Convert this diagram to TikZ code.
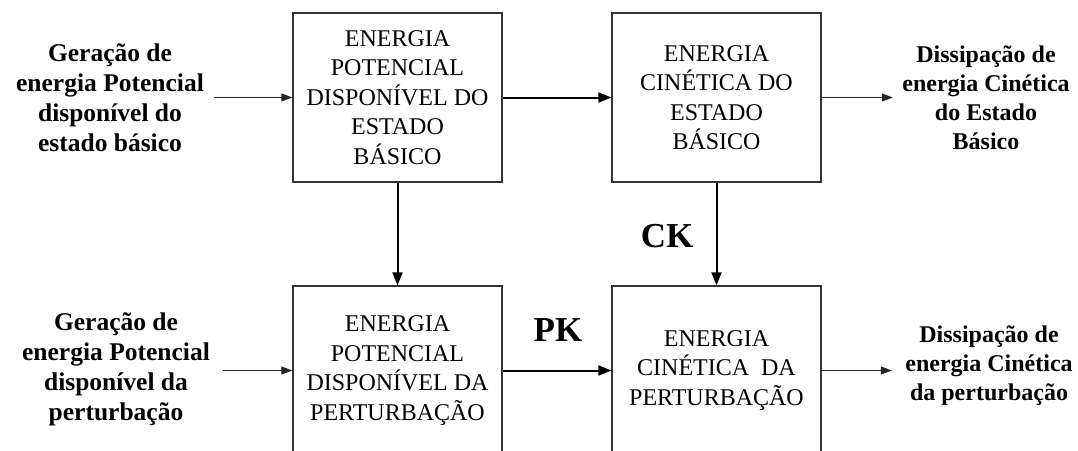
\documentclass[tikz,border=0pt]{standalone}
\usepackage{fontspec}
\setmainfont{Liberation Serif}
\usetikzlibrary{arrows.meta}
\begin{document}
\begin{tikzpicture}[x=1pt,y=-1pt,
  boxnode/.style={draw=black!80,line width=1.3pt,minimum width=209pt,minimum height=169pt,inner sep=0pt,align=center,font=\fontsize{24pt}{29.5pt}\selectfont},
  leftlabel/.style={align=center,font=\fontsize{25.5pt}{30pt}\selectfont\bfseries},
  rightlabel/.style={align=center,font=\fontsize{24pt}{29pt}\selectfont\bfseries},
  biglabel/.style={font=\fontsize{35pt}{40pt}\selectfont\bfseries},
  arrthin/.style={draw=black!85,line width=1pt,-{Triangle[length=11pt,width=8pt]}},
  arrthick/.style={draw=black,line width=2pt,-{Triangle[length=13pt,width=10pt]}}
]
\useasboundingbox (0,0) rectangle (1078,450);
\clip (0,0) rectangle (1078,450);
\fill[white] (0,0) rectangle (1078,450);

\node[boxnode] (b1) at (397.5,97.5) {ENERGIA\\POTENCIAL\\DISPONÍVEL DO\\ESTADO\\BÁSICO};
\node[boxnode] (b2) at (716.5,97.5) {ENERGIA\\CINÉTICA DO\\ESTADO\\BÁSICO};
\node[boxnode] (b3) at (397.5,370.5) {ENERGIA\\POTENCIAL\\DISPONÍVEL DA\\PERTURBAÇÃO};
\node[boxnode] (b4) at (716.5,370.5) {ENERGIA\\CINÉTICA~~DA\\PERTURBAÇÃO};

\node[leftlabel] (in1) at (110,98) {Geração de\\energia Potencial\\disponível do\\estado básico};
\node[leftlabel] (in2) at (116,369) {Geração de\\energia Potencial\\disponível da\\perturbação};
\node[rightlabel] (out1) at (986,98) {Dissipação de\\energia Cinética\\do Estado\\Básico};
\node[rightlabel] (out2) at (989,366) {Dissipação de\\energia Cinética\\da perturbação};

\node[biglabel] (ck) at (667,236) {CK};
\node[biglabel] (pk) at (558,330) {PK};

\draw[arrthin,shorten <=7pt] (in1.east |- b1.west) -- (b1.west);
\draw[arrthin,shorten <=10pt] (in2.east |- b3.west) -- (b3.west);
\draw[arrthick] (b1.east) -- (b2.west);
\draw[arrthick] (b3.east) -- (b4.west);
\draw[arrthick] (b1.south) -- (b3.north);
\draw[arrthick] (b2.south) -- (b4.north);
\draw[arrthin,shorten >=6pt] (b2.east) -- (b2.east -| out1.west);
\draw[arrthin,shorten >=10pt] (b4.east) -- (b4.east -| out2.west);
\end{tikzpicture}
\end{document}
